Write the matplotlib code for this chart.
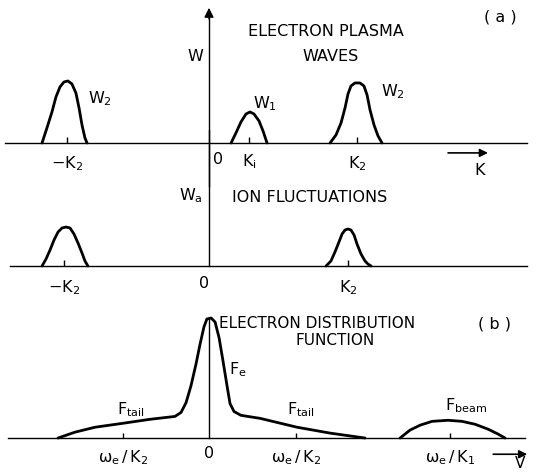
import matplotlib
matplotlib.use("Agg")
import matplotlib.pyplot as plt

# x in units of K2 (top panels) / omega_e/K2-ish velocity units (bottom panel)
# (a) electron plasma waves
w2_left_x = [-1.128, -1.095, -1.061, -1.034, -1.007, -0.980, -0.953, -0.926, -0.899, -0.878, -0.858, -0.838, -0.824]
w2_left_y = [0, 0.242, 0.50, 0.742, 0.903, 0.984, 1.0, 0.952, 0.806, 0.565, 0.290, 0.081, 0]
w1_x = [0.149, 0.182, 0.216, 0.25, 0.277, 0.304, 0.338, 0.365, 0.392]
w1_y = [0, 0.161, 0.339, 0.468, 0.50, 0.468, 0.355, 0.194, 0]
w2_right_x = [0.818, 0.858, 0.892, 0.919, 0.939, 0.959, 0.986, 1.020, 1.047, 1.068, 1.088, 1.115, 1.142, 1.169]
w2_right_y = [0, 0.129, 0.323, 0.565, 0.790, 0.919, 0.968, 0.968, 0.919, 0.774, 0.532, 0.290, 0.113, 0]
wave_ticks = [-0.96, 0.27, 1.0]

# ion fluctuations
ion_left_x = [-1.128, -1.101, -1.074, -1.047, -1.020, -0.993, -0.966, -0.939, -0.912, -0.885, -0.858, -0.838, -0.818]
ion_left_y = [0, 0.113, 0.258, 0.419, 0.548, 0.613, 0.629, 0.613, 0.516, 0.371, 0.210, 0.081, 0]
ion_right_x = [0.791, 0.824, 0.851, 0.878, 0.899, 0.919, 0.939, 0.959, 0.980, 1.0, 1.027, 1.054, 1.074, 1.095]
ion_right_y = [0, 0.081, 0.226, 0.387, 0.516, 0.581, 0.597, 0.581, 0.5, 0.355, 0.194, 0.081, 0.032, 0]
ion_ticks = [-0.98, 0.94]

# (b) electron distribution function
fe_x = [-1.020, -0.905, -0.770, -0.581, -0.399, -0.230, -0.189, -0.155, -0.122, -0.088, -0.061,
        -0.034, -0.014, 0.014, 0.041, 0.068, 0.095, 0.122, 0.142, 0.169, 0.216, 0.345, 0.595, 0.818, 1.054]
fe_y = [0, 0.049, 0.090, 0.123, 0.156, 0.180, 0.213, 0.295, 0.434, 0.615, 0.779,
        0.926, 0.992, 1.0, 0.967, 0.836, 0.639, 0.434, 0.287, 0.221, 0.189, 0.164, 0.090, 0.041, 0]
beam_x = [1.291, 1.358, 1.426, 1.507, 1.615, 1.709, 1.797, 1.885, 1.953, 2.0]
beam_y = [0, 0.066, 0.107, 0.139, 0.148, 0.139, 0.115, 0.074, 0.033, 0]
v_ticks = [-0.58, 0.59, 1.63]

FS = 11.5
LW_CURVE = 2.0
LW_AXIS = 1.0
XLIM = (-1.412, 2.216)

fig = plt.figure(figsize=(5.37, 4.72), dpi=100)
fig.patch.set_facecolor("white")

ax_a = fig.add_axes([0, 1 - 180 / 472, 1, 180 / 472])
ax_m = fig.add_axes([0, 1 - 300 / 472, 1, 120 / 472])
ax_b = fig.add_axes([0, 0, 1, 172 / 472])
for ax in (ax_a, ax_m, ax_b):
    ax.set_xlim(*XLIM)
    ax.axis("off")
ax_a.set_ylim(-0.597, 2.306)
ax_m.set_ylim(-0.548, 1.387)
ax_b.set_ylim(-0.283, 1.15)


def txt(ax, x, y, s, ha="center", va="center", size=FS):
    ax.text(x, y, s, ha=ha, va=va, fontsize=size, color="k", family="DejaVu Sans")


def arrow(ax, x0, x1, y, y1=None, ms=12, lw=1.2):
    ax.annotate("", xy=(x1, y if y1 is None else y1), xytext=(x0, y),
                arrowprops=dict(arrowstyle="-|>", color="k", lw=lw, mutation_scale=ms,
                                shrinkA=0, shrinkB=0),
                annotation_clip=False)


# ---- (a) electron plasma waves
ax_a.plot([-1.378, 2.149], [0, 0], color="k", lw=LW_AXIS)
for xs, ys in [(w2_left_x, w2_left_y), (w1_x, w1_y), (w2_right_x, w2_right_y)]:
    ax_a.plot(xs, ys, color="k", lw=LW_CURVE, solid_capstyle="round", solid_joinstyle="round")
ax_a.vlines(wave_ticks, 0, 0.09, color="k", lw=LW_AXIS)
# W axis with arrow, running down into the ion panel
ax_a.plot([0, 0], [-0.7, 2.05], color="k", lw=LW_AXIS, clip_on=False)
arrow(ax_a, 0, 0, 2.0, y1=2.18, ms=14, lw=LW_AXIS)
txt(ax_a, -0.04, 1.39, "W", ha="right")
txt(ax_a, 0.79, 1.79, "ELECTRON PLASMA")
txt(ax_a, 0.82, 1.39, "WAVES")
txt(ax_a, 1.97, 2.03, "( a )")
txt(ax_a, -0.82, 0.72, r"$\mathregular{W_2}$", ha="left")
txt(ax_a, 0.30, 0.63, r"$\mathregular{W_1}$", ha="left")
txt(ax_a, 1.16, 0.83, r"$\mathregular{W_2}$", ha="left")
txt(ax_a, wave_ticks[0], -0.33, r"$\mathregular{-K_2}$")
txt(ax_a, 0.06, -0.26, "0")
txt(ax_a, wave_ticks[1], -0.30, r"$\mathregular{K_i}$")
txt(ax_a, wave_ticks[2], -0.33, r"$\mathregular{K_2}$")
arrow(ax_a, 1.615, 1.885, -0.16)
txt(ax_a, 1.83, -0.44, "K")

# ---- ion fluctuations
ax_m.plot([-1.345, 2.149], [0, 0], color="k", lw=LW_AXIS)
ax_m.plot([0, 0], [0, 2.2], color="k", lw=LW_AXIS, clip_on=False)
for xs, ys in [(ion_left_x, ion_left_y), (ion_right_x, ion_right_y)]:
    ax_m.plot(xs, ys, color="k", lw=LW_CURVE, solid_capstyle="round", solid_joinstyle="round")
ax_m.vlines(ion_ticks, 0, 0.09, color="k", lw=LW_AXIS)
txt(ax_m, -0.04, 1.13, r"$\mathregular{W_a}$", ha="right")
txt(ax_m, 0.68, 1.10, "ION FLUCTUATIONS")
txt(ax_m, ion_ticks[0], -0.35, r"$\mathregular{-K_2}$")
txt(ax_m, -0.03, -0.29, "0")
txt(ax_m, ion_ticks[1], -0.35, r"$\mathregular{K_2}$")

# ---- (b) electron distribution function
ax_b.plot([-1.358, 2.135], [0, 0], color="k", lw=LW_AXIS)
ax_b.plot([0, 0], [0, 1.0], color="k", lw=LW_AXIS)
for xs, ys in [(fe_x, fe_y), (beam_x, beam_y)]:
    ax_b.plot(xs, ys, color="k", lw=LW_CURVE, solid_capstyle="round", solid_joinstyle="round")
ax_b.vlines(v_ticks, 0, 0.045, color="k", lw=LW_AXIS)
txt(ax_b, 0.07, 0.955, "ELECTRON DISTRIBUTION", ha="left", size=11)
txt(ax_b, 0.85, 0.81, "FUNCTION", size=11)
txt(ax_b, 1.93, 0.95, "( b )")
txt(ax_b, 0.135, 0.57, r"$\mathregular{F_e}$", ha="left")
txt(ax_b, -0.62, 0.24, r"$\mathregular{F_{tail}}$", ha="left")
txt(ax_b, 0.53, 0.235, r"$\mathregular{F_{tail}}$", ha="left")
txt(ax_b, 1.595, 0.27, r"$\mathregular{F_{beam}}$", ha="left")
txt(ax_b, v_ticks[0], -0.16, r"$\mathregular{\omega_e\,/\,K_2}$")
txt(ax_b, 0.0, -0.13, "0")
txt(ax_b, v_ticks[1], -0.16, r"$\mathregular{\omega_e\,/\,K_2}$")
txt(ax_b, v_ticks[2], -0.16, r"$\mathregular{\omega_e\,/\,K_1}$")
arrow(ax_b, 1.92, 2.15, -0.135)
txt(ax_b, 2.10, -0.215, "V", size=11)

fig.savefig("out.png", dpi=100, facecolor="white")
